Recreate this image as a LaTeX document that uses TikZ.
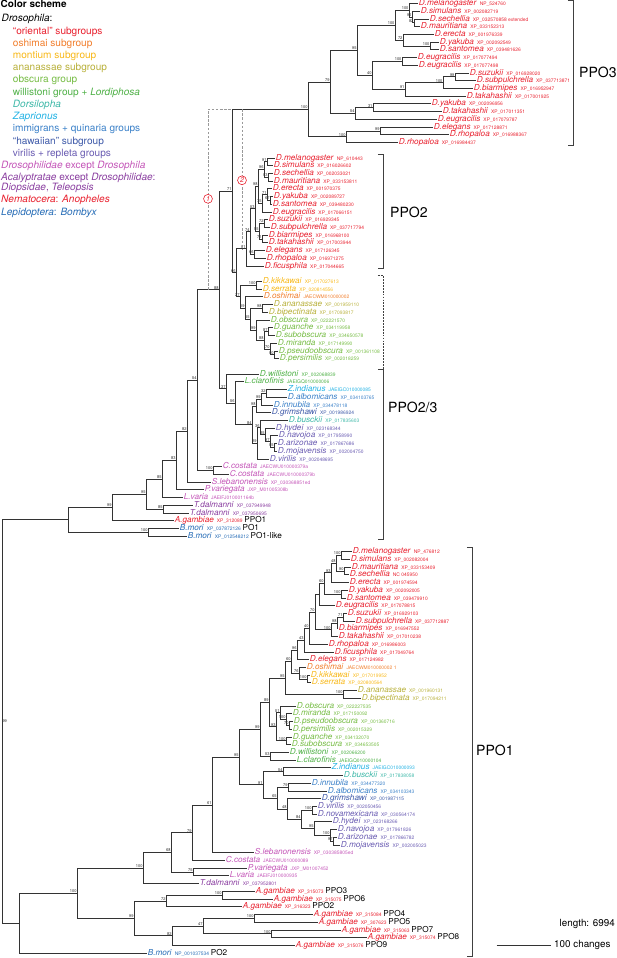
\documentclass[tikz,border=0pt]{standalone}
\usepackage{fontspec}
\setmainfont{TeX Gyre Heros}
\usepackage{xcolor}
\definecolor{cOri}{RGB}{232,32,46}
\definecolor{cOsh}{RGB}{241,126,44}
\definecolor{cMon}{RGB}{248,184,24}
\definecolor{cAna}{RGB}{184,176,58}
\definecolor{cObs}{RGB}{118,188,68}
\definecolor{cWil}{RGB}{78,176,70}
\definecolor{cDor}{RGB}{62,184,168}
\definecolor{cZap}{RGB}{34,178,228}
\definecolor{cImm}{RGB}{58,128,200}
\definecolor{cHaw}{RGB}{60,88,168}
\definecolor{cVir}{RGB}{106,92,178}
\definecolor{cDph}{RGB}{196,86,184}
\definecolor{cAca}{RGB}{138,62,160}
\definecolor{cLep}{RGB}{38,108,182}
\newcommand{\acc}[1]{{\fontsize{4.2}{5}\selectfont #1}}
\newcommand{\seqlab}[2]{\textit{#1}\hspace{2.6pt}\acc{#2}}
\newcommand{\iso}[1]{\hspace{1.5pt}{\color{black}#1}}

\begin{document}
\begin{tikzpicture}[x=0.03cm, y=-0.2316cm]
	\tikzstyle{br}=[draw=black!80, line width=0.65pt, line cap=rect]
	\tikzstyle{leaf}=[anchor=west, inner sep=0.5pt, text height=4.9pt, text depth=1.3pt, font=\fontsize{7}{8}\selectfont]
	\tikzstyle{bs}=[font=\fontsize{3.4}{4}\selectfont, inner sep=0.25pt, text=black!85]
	\tikzstyle{legend}=[anchor=west, inner sep=0pt, text height=6pt, text depth=1.8pt, font=\fontsize{8.6}{10}\selectfont]
	\tikzstyle{brack}=[draw=black!75, line width=0.7pt]
	\tikzstyle{clade}=[anchor=west, inner sep=0pt, font=\fontsize{12}{14}\selectfont]
	\tikzstyle{altpath}=[draw=black!40, line width=0.5pt, dash pattern=on 2pt off 1.5pt]
	\tikzstyle{altmark}=[circle, draw=cOri, fill=white, text=cOri, line width=0.5pt, inner sep=0pt, minimum size=7.6pt, font=\fontsize{6}{7}\selectfont\itshape]
	\tikzstyle{oriental}=[leaf, text=cOri]
	\tikzstyle{oshimai}=[leaf, text=cOsh]
	\tikzstyle{montium}=[leaf, text=cMon]
	\tikzstyle{ananassae}=[leaf, text=cAna]
	\tikzstyle{obscura}=[leaf, text=cObs]
	\tikzstyle{willistoni}=[leaf, text=cWil]
	\tikzstyle{dorsilopha}=[leaf, text=cDor]
	\tikzstyle{zaprionus}=[leaf, text=cZap]
	\tikzstyle{immigrans}=[leaf, text=cImm]
	\tikzstyle{hawaiian}=[leaf, text=cHaw]
	\tikzstyle{virilis}=[leaf, text=cVir]
	\tikzstyle{drosophilid}=[leaf, text=cDph]
	\tikzstyle{acalyptrate}=[leaf, text=cAca]
	\tikzstyle{nematocera}=[leaf, text=cOri]
	\tikzstyle{lepidoptera}=[leaf, text=cLep]

	\useasboundingbox (0,-0.4534) rectangle (617,123.64);

	% Color scheme
	\node[legend, font=\fontsize{8.5}{10}\selectfont\bfseries] (lgtitle) at (0.5,0.155) {Color scheme};
	\node[legend] (lgdros) at (1.5,2.05) {\textit{Drosophila}:};
	\node[legend, text=cOri] (lgori) at (12.7,3.73) {``oriental'' subgroups};
	\node[legend, text=cOsh] (lgosh) at (12.7,5.21) {oshimai subgroup};
	\node[legend, text=cMon] (lgmon) at (12.7,6.80) {montium subgroup};
	\node[legend, text=cAna] (lgana) at (12.7,8.39) {ananassae subgroup};
	\node[legend, text=cObs] (lgobs) at (12.7,9.95) {obscura group};
	\node[legend, text=cWil] (lgwil) at (12.7,11.55) {willistoni group + \textit{Lordiphosa}};
	\node[legend, text=cDor] (lgdor) at (12.7,13.15) {\textit{Dorsilopha}};
	\node[legend, text=cZap] (lgzap) at (12.7,14.70) {\textit{Zaprionus}};
	\node[legend, text=cImm] (lgimm) at (12.7,16.30) {immigrans + quinaria groups};
	\node[legend, text=cHaw] (lghaw) at (12.7,17.90) {``hawaiian'' subgroup};
	\node[legend, text=cVir] (lgvir) at (12.7,19.46) {virilis + repleta groups};
	\node[legend, text=cDph] (lgdph) at (1,21.01) {\textit{Drosophilidae} except \textit{Drosophila}};
	\node[legend, text=cAca] (lgaca) at (1,22.64) {\textit{Acalyptratae} except \textit{Drosophilidae}:};
	\node[legend, text=cAca] (lgdio) at (1,23.86) {\textit{Diopsidae}, \textit{Teleopsis}};
	\node[legend, text=cOri] (lgnem) at (1,25.49) {\textit{Nematocera}: \textit{Anopheles}};
	\node[legend, text=cLep] (lglep) at (1,27.10) {\textit{Lepidoptera}: \textit{Bombyx}};

	% PPO3 leaves
	\node[oriental] (l0) at (418,0) {\seqlab{D.melanogaster}{NP\_524760}};
	\node[oriental] (l1) at (420,1) {\seqlab{D.simulans}{XP\_002082719}};
	\node[oriental] (l2) at (429,2) {\seqlab{D.sechellia}{XP\_032570858 extended}};
	\node[oriental] (l3) at (420,3) {\seqlab{D.mauritiana}{XP\_033152313}};
	\node[oriental] (l4) at (434,4) {\seqlab{D.erecta}{XP\_001976339}};
	\node[oriental] (l5) at (439,5) {\seqlab{D.yakuba}{XP\_002092549}};
	\node[oriental] (l6) at (439,6) {\seqlab{D.santomea}{XP\_039481626}};
	\node[oriental] (l7) at (417,7) {\seqlab{D.eugracilis}{XP\_017077494}};
	\node[oriental] (l8) at (418,8) {\seqlab{D.eugracilis}{XP\_017077498}};
	\node[oriental] (l9) at (469,9) {\seqlab{D.suzukii}{XP\_016928020}};
	\node[oriental] (l10) at (476,10) {\seqlab{D.subpulchrella}{XP\_037713871}};
	\node[oriental] (l11) at (473,11) {\seqlab{D.biarmipes}{XP\_016952947}};
	\node[oriental] (l12) at (466,12) {\seqlab{D.takahashii}{XP\_017001925}};
	\node[oriental] (l13) at (431,13) {\seqlab{D.yakuba}{XP\_002096956}};
	\node[oriental] (l14) at (442,14) {\seqlab{D.takahashii}{XP\_017011351}};
	\node[oriental] (l15) at (437,15) {\seqlab{D.eugracilis}{XP\_017079787}};
	\node[oriental] (l16) at (433,16) {\seqlab{D.elegans}{XP\_017128871}};
	\node[oriental] (l17) at (449,17) {\seqlab{D.rhopaloa}{XP\_016988367}};
	\node[oriental] (l18) at (398,18) {\seqlab{D.rhopaloa}{XP\_016984437}};

	% PPO2 leaves
	\node[oriental] (l20) at (275,20) {\seqlab{D.melanogaster}{NP\_610443}};
	\node[oriental] (l21) at (273,21) {\seqlab{D.simulans}{XP\_016026602}};
	\node[oriental] (l22) at (273,22) {\seqlab{D.sechellia}{XP\_002033021}};
	\node[oriental] (l23) at (273,23) {\seqlab{D.mauritiana}{XP\_033153811}};
	\node[oriental] (l24) at (272,24) {\seqlab{D.erecta}{XP\_001970375}};
	\node[oriental] (l25) at (273,25) {\seqlab{D.yakuba}{XP\_002089727}};
	\node[oriental] (l26) at (272,26) {\seqlab{D.santomea}{XP\_039480230}};
	\node[oriental] (l27) at (272,27) {\seqlab{D.eugracilis}{XP\_017066151}};
	\node[oriental] (l28) at (268,28) {\seqlab{D.suzukii}{XP\_016929345}};
	\node[oriental] (l29) at (270,29) {\seqlab{D.subpulchrella}{XP\_037717794}};
	\node[oriental] (l30) at (268,30) {\seqlab{D.biarmipes}{XP\_016968100}};
	\node[oriental] (l31) at (268,31) {\seqlab{D.takahashii}{XP\_017003944}};
	\node[oriental] (l32) at (265,32) {\seqlab{D.elegans}{XP\_017126345}};
	\node[oriental] (l33) at (266,33) {\seqlab{D.rhopaloa}{XP\_016971275}};
	\node[oriental] (l34) at (264,34) {\seqlab{D.ficusphila}{XP\_017044665}};

	% PPO2/3 leaves
	\node[montium] (l36) at (262,36) {\seqlab{D.kikkawai}{XP\_017027613}};
	\node[montium] (l37) at (262,37) {\seqlab{D.serrata}{XP\_020814556}};
	\node[oshimai] (l38) at (263,38) {\seqlab{D.oshimai}{JAECWM010000002}};
	\node[ananassae] (l39) at (273,39) {\seqlab{D.ananassae}{XP\_001959110}};
	\node[ananassae] (l40) at (268,40) {\seqlab{D.bipectinata}{XP\_017093817}};
	\node[obscura] (l41) at (270,41) {\seqlab{D.obscura}{XP\_022221570}};
	\node[obscura] (l42) at (273,42) {\seqlab{D.guanche}{XP\_034119958}};
	\node[obscura] (l43) at (275,43) {\seqlab{D.subobscura}{XP\_034650578}};
	\node[obscura] (l44) at (277,44) {\seqlab{D.miranda}{XP\_017149990}};
	\node[obscura] (l45) at (278,45) {\seqlab{D.pseudoobscura}{XP\_001361108}};
	\node[obscura] (l46) at (279,46) {\seqlab{D.persimilis}{XP\_002018259}};
	\node[willistoni] (l48) at (259,48) {\seqlab{D.willistoni}{XP\_002068839}};
	\node[willistoni] (l49) at (244,49) {\seqlab{L.clarofinis}{JAEIGQ010000006}};
	\node[zaprionus] (l50) at (287,50) {\seqlab{Z.indianus}{JAEIGC010000085}};
	\node[immigrans] (l51) at (287,51) {\seqlab{D.albomicans}{XP\_034103765}};
	\node[immigrans] (l52) at (273,52) {\seqlab{D.innubila}{XP\_034478118}};
	\node[hawaiian] (l53) at (271,53) {\seqlab{D.grimshawi}{XP\_001986924}};
	\node[dorsilopha] (l54) at (288,54) {\seqlab{D.busckii}{XP\_017835603}};
	\node[virilis] (l55) at (275,55) {\seqlab{D.hydei}{XP\_023168344}};
	\node[virilis] (l56) at (278,56) {\seqlab{D.navojoa}{XP\_017958990}};
	\node[virilis] (l57) at (277,57) {\seqlab{D.arizonae}{XP\_017867686}};
	\node[virilis] (l58) at (277,58) {\seqlab{D.mojavensis}{XP\_002004750}};
	\node[virilis] (l59) at (269,59) {\seqlab{D.virilis}{XP\_002048695}};
	\node[drosophilid] (l60) at (222,60) {\seqlab{C.costata}{JAECWU010000379a}};
	\node[drosophilid] (l61) at (229,61) {\seqlab{C.costata}{JAECWU010000379b}};
	\node[drosophilid] (l62) at (211,62) {\seqlab{S.lebanonensis}{XP\_030368851ed}};
	\node[drosophilid] (l63) at (204,63) {\seqlab{P.variegata}{JXP\_M01005308b}};
	\node[drosophilid] (l64) at (183,64) {\seqlab{L.varia}{JAEIFJ010001164b}};
	\node[acalyptrate] (l65) at (193,65) {\seqlab{T.dalmanni}{XP\_037949948}};
	\node[acalyptrate] (l66) at (189,66) {\seqlab{T.dalmanni}{XP\_037950695}};
	\node[nematocera] (l67) at (174,67) {\seqlab{A.gambiae}{XP\_312089}\iso{PPO1}};
	\node[lepidoptera] (l68) at (179,68) {\seqlab{B.mori}{XP\_037872126}\iso{PO1}};
	\node[lepidoptera] (l69) at (187,69) {\seqlab{B.mori}{XP\_012548212}\iso{PO1-like}};

	% PPO1 leaves
	\node[oriental] (l71) at (352,71) {\seqlab{D.melanogaster}{NP\_476812}};
	\node[oriental] (l72) at (350,72) {\seqlab{D.simulans}{XP\_002082004}};
	\node[oriental] (l73) at (351,73) {\seqlab{D.mauritiana}{XP\_033153409}};
	\node[oriental] (l74) at (349,74) {\seqlab{D.sechellia}{NC 045950}};
	\node[oriental] (l75) at (349,75) {\seqlab{D.erecta}{XP\_001974594}};
	\node[oriental] (l76) at (348,76) {\seqlab{D.yakuba}{XP\_002092005}};
	\node[oriental] (l77) at (346,77) {\seqlab{D.santomea}{XP\_039479910}};
	\node[oriental] (l78) at (335,78) {\seqlab{D.eugracilis}{XP\_017078815}};
	\node[oriental] (l79) at (347,79) {\seqlab{D.suzukii}{XP\_016929103}};
	\node[oriental] (l80) at (355,80) {\seqlab{D.subpulchrella}{XP\_037712887}};
	\node[oriental] (l81) at (338,81) {\seqlab{D.biarmipes}{XP\_016947552}};
	\node[oriental] (l82) at (338,82) {\seqlab{D.takahashii}{XP\_017010238}};
	\node[oriental] (l83) at (328,83) {\seqlab{D.rhopaloa}{XP\_016986003}};
	\node[oriental] (l84) at (334,84) {\seqlab{D.ficusphila}{XP\_017049764}};
	\node[oriental] (l85) at (309,85) {\seqlab{D.elegans}{XP\_017124982}};
	\node[oshimai] (l86) at (306,86) {\seqlab{D.oshimai}{JAECWM010000002 1}};
	\node[montium] (l87) at (310,87) {\seqlab{D.kikkawai}{XP\_017019952}};
	\node[montium] (l88) at (311,88) {\seqlab{D.serrata}{XP\_020800564}};
	\node[ananassae] (l89) at (357,89) {\seqlab{D.ananassae}{XP\_001960131}};
	\node[ananassae] (l90) at (361,90) {\seqlab{D.bipectinata}{XP\_017094211}};
	\node[obscura] (l91) at (296,91) {\seqlab{D.obscura}{XP\_022227535}};
	\node[obscura] (l92) at (292,92) {\seqlab{D.miranda}{XP\_017150092}};
	\node[obscura] (l93) at (293,93) {\seqlab{D.pseudoobscura}{XP\_001360716}};
	\node[obscura] (l94) at (292,94) {\seqlab{D.persimilis}{XP\_002015329}};
	\node[obscura] (l95) at (292,95) {\seqlab{D.guanche}{XP\_034132070}};
	\node[obscura] (l96) at (291,96) {\seqlab{D.subobscura}{XP\_034653505}};
	\node[willistoni] (l97) at (289,97) {\seqlab{D.willistoni}{XP\_002066200}};
	\node[willistoni] (l98) at (296,98) {\seqlab{L.clarofinis}{JAEIGQ010000104}};
	\node[zaprionus] (l99) at (331,99) {\seqlab{Z.indianus}{JAEIGC010000093}};
	\node[dorsilopha] (l100) at (343,100) {\seqlab{D.busckii}{XP\_017838058}};
	\node[immigrans] (l101) at (311,101) {\seqlab{D.innubila}{XP\_034477320}};
	\node[immigrans] (l102) at (327,102) {\seqlab{D.albomicans}{XP\_034103343}};
	\node[hawaiian] (l103) at (321,103) {\seqlab{D.grimshawi}{XP\_001987115}};
	\node[virilis] (l104) at (317,104) {\seqlab{D.virilis}{XP\_002050456}};
	\node[virilis] (l105) at (317,105) {\seqlab{D.novamexicana}{XP\_030564174}};
	\node[virilis] (l106) at (332,106) {\seqlab{D.hydei}{XP\_023168266}};
	\node[virilis] (l107) at (337,107) {\seqlab{D.navojoa}{XP\_017961826}};
	\node[virilis] (l108) at (337,108) {\seqlab{D.arizonae}{XP\_017866782}};
	\node[virilis] (l109) at (340,109) {\seqlab{D.mojavensis}{XP\_002005023}};
	\node[drosophilid] (l110) at (254,110) {\seqlab{S.lebanonensis}{XP\_030385805ed}};
	\node[drosophilid] (l111) at (225,111) {\seqlab{C.costata}{JAECWU010000089}};
	\node[drosophilid] (l112) at (247,112) {\seqlab{P.variegata}{JXP\_M01007452}};
	\node[drosophilid] (l113) at (229,113) {\seqlab{L.varia}{JAEIFJ010000935}};
	\node[acalyptrate] (l114) at (199,114) {\seqlab{T.dalmanni}{XP\_037952801}};
	\node[nematocera] (l115) at (255,115) {\seqlab{A.gambiae}{XP\_315073}\iso{PPO3}};
	\node[nematocera] (l116) at (273,116) {\seqlab{A.gambiae}{XP\_315075}\iso{PPO6}};
	\node[nematocera] (l117) at (242,117) {\seqlab{A.gambiae}{XP\_316323}\iso{PPO2}};
	\node[nematocera] (l118) at (313,118) {\seqlab{A.gambiae}{XP\_315084}\iso{PPO4}};
	\node[nematocera] (l119) at (318,119) {\seqlab{A.gambiae}{XP\_307623}\iso{PPO5}};
	\node[nematocera] (l120) at (341,120) {\seqlab{A.gambiae}{XP\_315063}\iso{PPO7}};
	\node[nematocera] (l121) at (367,121) {\seqlab{A.gambiae}{XP\_315074}\iso{PPO8}};
	\node[nematocera] (l122) at (295,122) {\seqlab{A.gambiae}{XP\_315076}\iso{PPO9}};
	\node[lepidoptera] (l123) at (147,123) {\seqlab{B.mori}{NP\_001037534}\iso{PO2}};

	% PPO3 clade nodes
	\coordinate[label={[bs]above left:100}] (p3m) at (409,0.875);
	\coordinate[label={[bs]above left:96}] (p3s) at (412,1.75);
	\coordinate[label={[bs]above left:82}] (p3sm) at (414,2.5);
	\coordinate[label={[bs]above left:100}] (p3y) at (430,5.5);
	\coordinate[label={[bs]above left:72}] (p3e) at (403,4.75);
	\coordinate[label={[bs]above left:100}] (p3f) at (395,2.8125);
	\coordinate[label={[bs]above left:100}] (p3eg) at (402,7.5);
	\coordinate[label={[bs]above left:99}] (p3sz) at (455,9.5);
	\coordinate[label={[bs]above left:100}] (p3sb) at (443,10.25);
	\coordinate[label={[bs]above left:91}] (p3st) at (405,11.125);
	\coordinate[label={[bs]above left:40}] (p3g) at (372,9.3125);
	\coordinate[label={[bs]above left:95}] (p3d) at (357,6.0625);
	\coordinate[label={[bs]above left:31}] (p3q) at (373,13.5);
	\coordinate[label={[bs]above left:54}] (p3ee) at (355,14.25);
	\coordinate[label={[bs]above left:79}] (p3b) at (330,10.156);
	\coordinate[label={[bs]above left:99}] (p3el) at (380,16.5);
	\coordinate[label={[bs]above left:100}] (p3c) at (346,17.25);
	\coordinate[label={[bs]above left:100}] (p3a) at (308,13.703);

	% PPO2 clade nodes
	\coordinate[label={[bs]above left:91}] (p2ms) at (267,20.5);
	\coordinate[label={[bs]above left:93}] (p2sm) at (268,22.5);
	\coordinate[label={[bs]above left:96}] (p2a) at (264,21.5);
	\coordinate[label={[bs]above left:67}] (p2ys) at (270,25.5);
	\coordinate[label={[bs]above left:71}] (p2ey) at (267,24.75);
	\coordinate[label={[bs]above left:75}] (p2eu) at (262,25.875);
	\coordinate[label={[bs]above left:98}] (p2mel) at (258,23.6875);
	\coordinate[label={[bs]above left:72}] (p2sz) at (264,28.5);
	\coordinate[label={[bs]above left:71}] (p2bt) at (262,30.5);
	\coordinate[label={[bs]above left:55}] (p2s) at (259,29.5);
	\coordinate[label={[bs]above left:53}] (p2n53) at (255,26.594);
	\coordinate[label={[bs]above left:66}] (p2er) at (254,32.5);
	\coordinate[label={[bs]above left:74}] (p2n74) at (250,29.547);
	\coordinate[label={[bs]above left:91}] (p2root) at (246,31.773);

	% PPO2/3 clade nodes
	\coordinate[label={[bs]above left:100}] (p23ks) at (256,36.5);
	\coordinate[label={[bs]above left:98}] (p23ab) at (262,39.5);
	\coordinate[label={[bs]above left:87}] (p23gs) at (268,42.5);
	\coordinate[label={[bs]above left:90}] (p23pp) at (274,45.5);
	\coordinate[label={[bs]above left:70}] (p23mp) at (270,44.75);
	\coordinate[label={[bs]above left:88}] (p23n88) at (264,43.625);
	\coordinate[label={[bs]above left:99}] (p23n99) at (256,42.3125);
	\coordinate[label={[bs]above left:55}] (p23r) at (250,40.906);
	\coordinate[label={[bs]above left:19}] (p23o) at (245,39.453);
	\coordinate[label={[bs]above left:27}] (p23root) at (240,37.977);
	\coordinate[label={[bs]above left:66}] (n66) at (236,34.875);
	\coordinate[label={[bs]above left:71}] (n71) at (232,24.289);
	\coordinate[label={[bs]above left:32}] (pza) at (266,50.5);
	\coordinate[label={[bs]above left:99}] (pzi) at (261,51.25);
	\coordinate[label={[bs]above left:98}] (pgr) at (256,52.125);
	\coordinate[label={[bs]above left:95}] (pam) at (274,57.5);
	\coordinate[label={[bs]above left:97}] (pna) at (270,56.75);
	\coordinate[label={[bs]above left:35}] (phy) at (265,55.875);
	\coordinate[label={[bs]above left:36}] (pbu) at (260,54.9375);
	\coordinate[label={[bs]above left:29}] (pvi) at (257,56.97);
	\coordinate[label={[bs]above left:84}] (p84) at (252,54.547);
	\coordinate[label={[bs]above left:56}] (p56) at (235,51.773);
	\coordinate[label={[bs]above left:37}] (p37) at (226,49.887);
	\coordinate[label={[bs]above left:88}] (n88) at (219,37.088);
	\coordinate[label={[bs]above left:100}] (pcc) at (213,60.5);
	\coordinate[label={[bs]above left:54}] (p54) at (197,48.794);
	\coordinate[label={[bs]above left:82}] (p82) at (187,55.397);
	\coordinate[label={[bs]above left:83}] (p83) at (176,59.198);
	\coordinate[label={[bs]above left:85}] (px85) at (162,61.599);
	\coordinate[label={[bs]above left:85}] (ptd) at (163,65.5);
	\coordinate[label={[bs]above left:95}] (p95) at (146,63.55);
	\coordinate[label={[bs]above left:99}] (pv99) at (112,65.275);
	\coordinate[label={[bs]above left:100}] (pbm) at (148,68.5);
	\coordinate (pu) at (68,66.887);

	% PPO1 clade nodes
	\coordinate[label={[bs]above left:100}] (q100a) at (341,71.5);
	\coordinate[label={[bs]above left:90}] (q90) at (344,73.5);
	\coordinate[label={[bs]above left:48}] (q48) at (336,72.5);
	\coordinate[label={[bs]above left:93}] (q93) at (331,73.75);
	\coordinate[label={[bs]above left:100}] (q100y) at (341,76.5);
	\coordinate[label={[bs]above left:60}] (q60) at (324,75.125);
	\coordinate (qeu) at (319,76.5625);
	\coordinate[label={[bs]above left:71}] (q71) at (343,79.5);
	\coordinate[label={[bs]above left:98}] (q98) at (337,80.25);
	\coordinate[label={[bs]above left:100}] (q100t) at (331,81.125);
	\coordinate[label={[bs]above left:70}] (q70) at (315,78.84);
	\coordinate[label={[bs]above left:40}] (q40) at (309,80.92);
	\coordinate[label={[bs]above left:43}] (q43) at (304,82.46);
	\coordinate[label={[bs]above left:96}] (q96) at (297,83.73);
	\coordinate[label={[bs]above left:100}] (qks) at (307,87.5);
	\coordinate[label={[bs]above left:76}] (q76) at (299,86.75);
	\coordinate[label={[bs]above left:60}] (q60b) at (291,85.24);
	\coordinate[label={[bs]above left:100}] (qab) at (343,89.5);
	\coordinate[label={[bs]above left:95}] (q95m) at (285,87.37);
	\coordinate[label={[bs]above left:70}] (q70p) at (289,93.5);
	\coordinate[label={[bs]above left:100}] (q100p) at (286,92.75);
	\coordinate[label={[bs]above left:51}] (q51) at (280,91.875);
	\coordinate[label={[bs]above left:100}] (q100g) at (286,95.5);
	\coordinate[label={[bs]above left:93}] (q93o) at (276,93.6875);
	\coordinate[label={[bs]above left:89}] (q89) at (269,90.53);
	\coordinate[label={[bs]above left:53}] (q53w) at (270,97.5);
	\coordinate[label={[bs]above left:99}] (q99) at (260,94.01);
	\coordinate[label={[bs]above left:54}] (q54z) at (283,99.5);
	\coordinate[label={[bs]above left:79}] (q79) at (288,101.5);
	\coordinate[label={[bs]above left:100}] (q100v) at (312,104.5);
	\coordinate[label={[bs]above left:97}] (q97) at (333,108.5);
	\coordinate[label={[bs]above left:100}] (q100m) at (330,107.75);
	\coordinate[label={[bs]above left:95}] (q95h) at (314,106.875);
	\coordinate[label={[bs]above left:84}] (q84) at (301,105.6875);
	\coordinate[label={[bs]above left:48}] (q48g) at (287,104.34);
	\coordinate[label={[bs]above left:65}] (q65) at (277,102.92);
	\coordinate[label={[bs]above left:91}] (q91) at (263,101.21);
	\coordinate[label={[bs]above left:95}] (q95d) at (239,97.61);
	\coordinate[label={[bs]above left:61}] (q61) at (212,103.81);
	\coordinate[label={[bs]above left:79}] (q79c) at (192,107.40);
	\coordinate[label={[bs]above left:75}] (q75) at (193,112.5);
	\coordinate[label={[bs]above left:68}] (q68) at (171,109.95);
	\coordinate[label={[bs]above left:100}] (q100d) at (143,111.98);
	\coordinate[label={[bs]above left:100}] (qg100a) at (222,115.5);
	\coordinate[label={[bs]above left:72}] (qg72) at (166,116.25);
	\coordinate[label={[bs]above left:100}] (qg100b) at (254,118.5);
	\coordinate[label={[bs]above left:100}] (qg100c) at (271,120.5);
	\coordinate[label={[bs]above left:47}] (qg47) at (203,119.5);
	\coordinate[label={[bs]above left:82}] (qg82) at (172,120.75);
	\coordinate[label={[bs]above left:99}] (qg99) at (134,118.5);
	\coordinate[label={[bs]above left:100}] (ql2) at (77,115.24);
	\coordinate (ql1) at (19,119.12);
	\coordinate[label={[bs]right:99}] (root) at (2,93.0);

	% Draw branches
	\draw[br] (p3m) |- (l0) (p3m) |- (p3s);
	\draw[br] (p3s) |- (l1) (p3s) |- (p3sm);
	\draw[br] (p3sm) |- (l2) (p3sm) |- (l3);
	\draw[br] (p3y) |- (l5) (p3y) |- (l6);
	\draw[br] (p3e) |- (l4) (p3e) |- (p3y);
	\draw[br] (p3f) |- (p3m) (p3f) |- (p3e);
	\draw[br] (p3eg) |- (l7) (p3eg) |- (l8);
	\draw[br] (p3sz) |- (l9) (p3sz) |- (l10);
	\draw[br] (p3sb) |- (p3sz) (p3sb) |- (l11);
	\draw[br] (p3st) |- (p3sb) (p3st) |- (l12);
	\draw[br] (p3g) |- (p3eg) (p3g) |- (p3st);
	\draw[br] (p3d) |- (p3f) (p3d) |- (p3g);
	\draw[br] (p3q) |- (l13) (p3q) |- (l14);
	\draw[br] (p3ee) |- (p3q) (p3ee) |- (l15);
	\draw[br] (p3b) |- (p3d) (p3b) |- (p3ee);
	\draw[br] (p3el) |- (l16) (p3el) |- (l17);
	\draw[br] (p3c) |- (p3el) (p3c) |- (l18);
	\draw[br] (p3a) |- (p3b) (p3a) |- (p3c);

	\draw[br] (p2ms) |- (l20) (p2ms) |- (l21);
	\draw[br] (p2sm) |- (l22) (p2sm) |- (l23);
	\draw[br] (p2a) |- (p2ms) (p2a) |- (p2sm);
	\draw[br] (p2ys) |- (l25) (p2ys) |- (l26);
	\draw[br] (p2ey) |- (l24) (p2ey) |- (p2ys);
	\draw[br] (p2eu) |- (p2ey) (p2eu) |- (l27);
	\draw[br] (p2mel) |- (p2a) (p2mel) |- (p2eu);
	\draw[br] (p2sz) |- (l28) (p2sz) |- (l29);
	\draw[br] (p2bt) |- (l30) (p2bt) |- (l31);
	\draw[br] (p2s) |- (p2sz) (p2s) |- (p2bt);
	\draw[br] (p2n53) |- (p2mel) (p2n53) |- (p2s);
	\draw[br] (p2er) |- (l32) (p2er) |- (l33);
	\draw[br] (p2n74) |- (p2n53) (p2n74) |- (p2er);
	\draw[br] (p2root) |- (p2n74) (p2root) |- (l34);

	\draw[br] (p23ks) |- (l36) (p23ks) |- (l37);
	\draw[br] (p23ab) |- (l39) (p23ab) |- (l40);
	\draw[br] (p23gs) |- (l42) (p23gs) |- (l43);
	\draw[br] (p23pp) |- (l45) (p23pp) |- (l46);
	\draw[br] (p23mp) |- (l44) (p23mp) |- (p23pp);
	\draw[br] (p23n88) |- (p23gs) (p23n88) |- (p23mp);
	\draw[br] (p23n99) |- (l41) (p23n99) |- (p23n88);
	\draw[br] (p23r) |- (p23ab) (p23r) |- (p23n99);
	\draw[br] (p23o) |- (l38) (p23o) |- (p23r);
	\draw[br] (p23root) |- (p23ks) (p23root) |- (p23o);
	\draw[br] (n66) |- (p2root) (n66) |- (p23root);
	\draw[br] (n71) |- (p3a) (n71) |- (n66);

	\draw[br] (pza) |- (l50) (pza) |- (l51);
	\draw[br] (pzi) |- (pza) (pzi) |- (l52);
	\draw[br] (pgr) |- (pzi) (pgr) |- (l53);
	\draw[br] (pam) |- (l57) (pam) |- (l58);
	\draw[br] (pna) |- (l56) (pna) |- (pam);
	\draw[br] (phy) |- (l55) (phy) |- (pna);
	\draw[br] (pbu) |- (l54) (pbu) |- (phy);
	\draw[br] (pvi) |- (pbu) (pvi) |- (l59);
	\draw[br] (p84) |- (pgr) (p84) |- (pvi);
	\draw[br] (p56) |- (l49) (p56) |- (p84);
	\draw[br] (p37) |- (l48) (p37) |- (p56);
	\draw[br] (n88) |- (n71) (n88) |- (p37);
	\draw[br] (pcc) |- (l60) (pcc) |- (l61);
	\draw[br] (p54) |- (n88) (p54) |- (pcc);
	\draw[br] (p82) |- (p54) (p82) |- (l62);
	\draw[br] (p83) |- (p82) (p83) |- (l63);
	\draw[br] (px85) |- (p83) (px85) |- (l64);
	\draw[br] (ptd) |- (l65) (ptd) |- (l66);
	\draw[br] (p95) |- (px85) (p95) |- (ptd);
	\draw[br] (pv99) |- (p95) (pv99) |- (l67);
	\draw[br] (pbm) |- (l68) (pbm) |- (l69);
	\draw[br] (pu) |- (pv99) (pu) |- (pbm);

	\draw[br] (q100a) |- (l71) (q100a) |- (l72);
	\draw[br] (q90) |- (l73) (q90) |- (l74);
	\draw[br] (q48) |- (q100a) (q48) |- (q90);
	\draw[br] (q93) |- (q48) (q93) |- (l75);
	\draw[br] (q100y) |- (l76) (q100y) |- (l77);
	\draw[br] (q60) |- (q93) (q60) |- (q100y);
	\draw[br] (qeu) |- (q60) (qeu) |- (l78);
	\draw[br] (q71) |- (l79) (q71) |- (l80);
	\draw[br] (q98) |- (q71) (q98) |- (l81);
	\draw[br] (q100t) |- (q98) (q100t) |- (l82);
	\draw[br] (q70) |- (qeu) (q70) |- (q100t);
	\draw[br] (q40) |- (q70) (q40) |- (l83);
	\draw[br] (q43) |- (q40) (q43) |- (l84);
	\draw[br] (q96) |- (q43) (q96) |- (l85);
	\draw[br] (qks) |- (l87) (qks) |- (l88);
	\draw[br] (q76) |- (l86) (q76) |- (qks);
	\draw[br] (q60b) |- (q96) (q60b) |- (q76);
	\draw[br] (qab) |- (l89) (qab) |- (l90);
	\draw[br] (q95m) |- (q60b) (q95m) |- (qab);
	\draw[br] (q70p) |- (l93) (q70p) |- (l94);
	\draw[br] (q100p) |- (l92) (q100p) |- (q70p);
	\draw[br] (q51) |- (l91) (q51) |- (q100p);
	\draw[br] (q100g) |- (l95) (q100g) |- (l96);
	\draw[br] (q93o) |- (q51) (q93o) |- (q100g);
	\draw[br] (q89) |- (q95m) (q89) |- (q93o);
	\draw[br] (q53w) |- (l97) (q53w) |- (l98);
	\draw[br] (q99) |- (q89) (q99) |- (q53w);
	\draw[br] (q54z) |- (l99) (q54z) |- (l100);
	\draw[br] (q79) |- (l101) (q79) |- (l102);
	\draw[br] (q100v) |- (l104) (q100v) |- (l105);
	\draw[br] (q97) |- (l108) (q97) |- (l109);
	\draw[br] (q100m) |- (l107) (q100m) |- (q97);
	\draw[br] (q95h) |- (l106) (q95h) |- (q100m);
	\draw[br] (q84) |- (q100v) (q84) |- (q95h);
	\draw[br] (q48g) |- (l103) (q48g) |- (q84);
	\draw[br] (q65) |- (q79) (q65) |- (q48g);
	\draw[br] (q91) |- (q54z) (q91) |- (q65);
	\draw[br] (q95d) |- (q99) (q95d) |- (q91);
	\draw[br] (q61) |- (q95d) (q61) |- (l110);
	\draw[br] (q79c) |- (q61) (q79c) |- (l111);
	\draw[br] (q75) |- (l112) (q75) |- (l113);
	\draw[br] (q68) |- (q79c) (q68) |- (q75);
	\draw[br] (q100d) |- (q68) (q100d) |- (l114);
	\draw[br] (qg100a) |- (l115) (qg100a) |- (l116);
	\draw[br] (qg72) |- (qg100a) (qg72) |- (l117);
	\draw[br] (qg100b) |- (l118) (qg100b) |- (l119);
	\draw[br] (qg100c) |- (l120) (qg100c) |- (l121);
	\draw[br] (qg47) |- (qg100b) (qg47) |- (qg100c);
	\draw[br] (qg82) |- (qg47) (qg82) |- (l122);
	\draw[br] (qg99) |- (qg72) (qg99) |- (qg82);
	\draw[br] (ql2) |- (q100d) (ql2) |- (qg99);
	\draw[br] (ql1) |- (ql2) (ql1) |- (l123);
	\draw[br] (root) |- (pu) (root) |- (ql1);

	% Alternative positions of PPO3
	\coordinate (alt1) at (208,37.088);
	\coordinate (alt2) at (242,13.703);
	\draw[altpath] (alt1) |- (n71 |- p3a);
	\draw[altpath] (alt2) -- (alt2 |- p2root);
	\node[altmark] (mk1) at (208,25.3) {1};
	\node[altmark] (mk2) at (242,22.9) {2};

	% Clade brackets
	\draw[brack] (568,-0.35) -- (573,-0.35) -- (573,18.35) -- (568,18.35);
	\draw[brack] (378,19.6) -- (383,19.6) -- (383,34.3) -- (378,34.3);
	\draw[brack, dash pattern=on 1.5pt off 1pt] (378,35.2) -- (383,35.2) -- (383,47.35);
	\draw[brack] (378,47.35) -- (383,47.35) -- (383,69.4) -- (378,69.4);
	\draw[brack] (467,70.5) -- (472,70.5) -- (472,123.4) -- (467,123.4);
	\node[clade] (tppo3) at (579,8.87) {PPO3};
	\node[clade] (tppo2) at (390,27.0) {PPO2};
	\node[clade] (tppo23) at (388,52.3) {PPO2/3};
	\node[clade] (tppo1) at (476,96.7) {PPO1};

	% Scale
	\node[anchor=east, inner sep=0pt, font=\fontsize{8.4}{10}\selectfont] (tlen) at (615,119.2) {length: 6994};
	\node[anchor=west, inner sep=0pt, font=\fontsize{8.4}{10}\selectfont] (tchg) at (554,121.95) {100 changes};
	\draw[br] (tchg.west) ++(-3,0) coordinate (sb1) -- ++(-54,0) coordinate (sb0);
\end{tikzpicture}
\end{document}
